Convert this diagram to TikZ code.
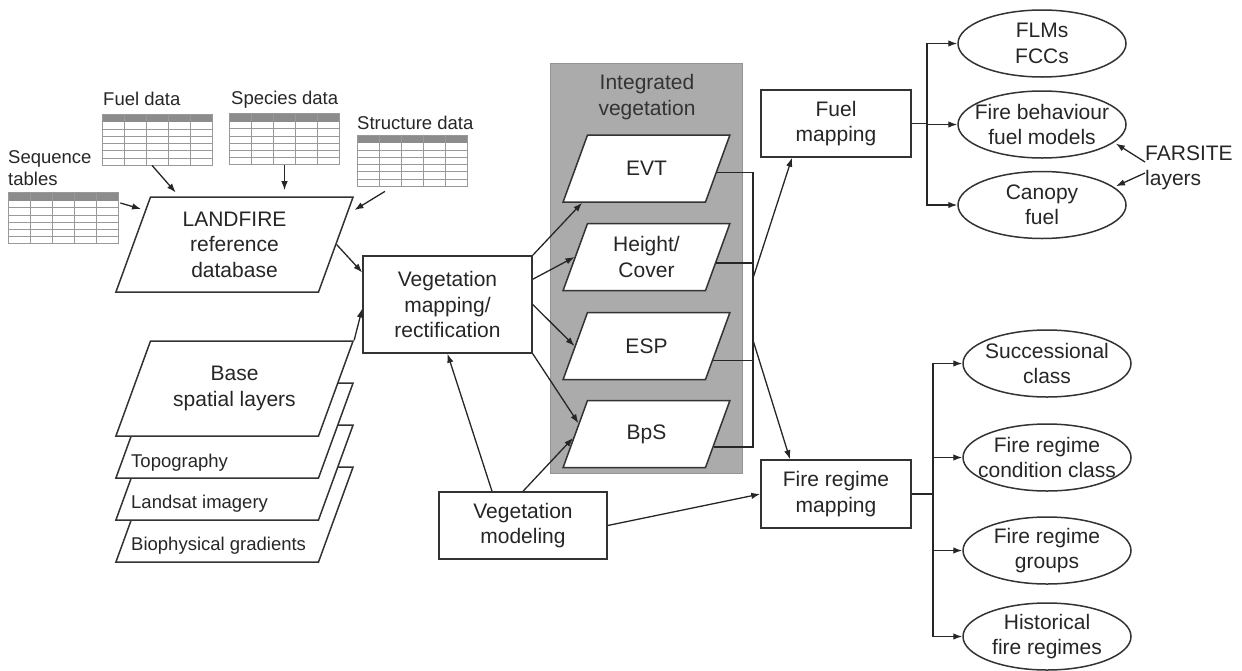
\documentclass[tikz,border=0pt]{standalone}
\usepackage{fontspec}
\setmainfont{Liberation Sans}
\usetikzlibrary{arrows.meta,positioning,shapes.geometric}

\begin{document}
\begin{tikzpicture}[x=1pt,y=-1pt,
	ptxt/.style={font=\fontsize{21}{25.5}\selectfont, text=black!85},
	txt/.style={ptxt, align=center},
	lbl/.style={font=\fontsize{18.5}{22}\selectfont, text=black!85, inner sep=0pt},
	rbox/.style={txt, draw=black!80, line width=1.5pt, fill=white, minimum width=#1, minimum height=67pt, inner sep=0pt},
	rbox/.default=168pt,
	para/.style 2 args={ptxt, trapezium, trapezium left angle=70, trapezium right angle=110, draw=black!80, line width=1.5pt, fill=white, inner sep=0pt,
		execute at begin node={\begin{minipage}[c][#2][c]{#1}\centering}, execute at end node={\end{minipage}}},
	oval/.style={txt, ellipse, draw=black!80, line width=1.5pt, minimum width=168pt, minimum height=67pt, inner xsep=-25pt, inner ysep=-20pt},
	panel/.style={fill=black!33, draw=black!42, line width=0.8pt, minimum width=192pt, minimum height=410pt, inner sep=0pt},
	tabl/.style={draw=black!40, line width=0.7pt, minimum width=110pt, minimum height=51pt, inner sep=0pt, path picture={
		\fill[black!45] (path picture bounding box.north west) rectangle ([yshift=-8pt]path picture bounding box.north east);
		\foreach \c in {1,...,4} \draw[black!40, line width=0.7pt] ([xshift=\c*22pt]path picture bounding box.north west) -- ([xshift=\c*22pt]path picture bounding box.south west);
		\foreach \r in {1,...,5} \draw[black!40, line width=0.7pt] ([yshift=-8pt-\r*7.2pt]path picture bounding box.north west) -- ([yshift=-8pt-\r*7.2pt]path picture bounding box.north east);}},
	arr/.style={-{Latex[length=9pt,width=6.5pt]}, line width=1.3pt, draw=black!85},
	conn/.style={line width=1.3pt, draw=black!85}]
		\useasboundingbox (0,0) rectangle (1242,670);

		\node[tabl] (fueltab) at (157,139.5) {};
		\node[tabl] (spectab) at (284.5,139) {};
		\node[tabl] (structab) at (412,160.5) {};
		\node[tabl] (seqtab) at (63,218) {};
		\node[lbl, anchor=base west] (fuellbl) at (103,105) {Fuel data};
		\node[lbl, anchor=base west] (speclbl) at (231,104) {Species data};
		\node[lbl, anchor=base west] (struclbl) at (357,129) {Structure data};
		\node[lbl, anchor=west, align=left] (seqlbl) at (8,168) {Sequence\\tables};

		\node[para={168pt}{95pt}] (lf) at (234.5,244.5) {LANDFIRE\\reference\\database};

		\node[para={168pt}{95pt}] (bio) at (234.5,514.5) {\mbox{}};
		\node[para={168pt}{95pt}] (lsat) at (234.5,472.5) {\mbox{}};
		\node[para={168pt}{95pt}] (topo) at (234.5,430.5) {\mbox{}};
		\node[para={168pt}{95pt}] (base) at (234.5,388.5) {Base\\spatial layers};
		\node[lbl, anchor=base west] (topotxt) at (131,467) {Topography};
		\node[lbl, anchor=base west] (lsattxt) at (131,508) {Landsat imagery};
		\node[lbl, anchor=base west] (biotxt) at (131,550) {Biophysical gradients};

		\node[rbox=169pt, minimum height=97pt] (vmap) at (447.5,304.5) {Vegetation\\mapping/\\rectification};
		\node[rbox] (vmod) at (523,525.5) {Vegetation\\modeling};

		\node[panel] (intveg) at (646,268) {};
		\node[txt, text=black!80] (ivlbl) at (647,97) {Integrated\\vegetation};
		\node[para={118pt}{67pt}] (evt) at (646.5,168.5) {EVT};
		\node[para={118pt}{67pt}] (hc) at (646.5,257) {Height/\\Cover};
		\node[para={118pt}{67pt}] (esp) at (646.5,346) {ESP};
		\node[para={118pt}{67pt}] (bps) at (646.5,434) {BpS};

		\node[rbox=150pt] (fmap) at (836,123.5) {Fuel\\mapping};
		\node[rbox=150pt, minimum height=68pt] (frm) at (836,494) {Fire regime\\mapping};

		\node[oval] (flm) at (1042,43.5) {FLMs\\FCCs};
		\node[oval] (fbm) at (1042,124.5) {Fire behaviour\\fuel models};
		\node[oval] (can) at (1042,205) {Canopy\\fuel};
		\node[txt, anchor=west, align=left, inner sep=0pt] (fars) at (1145,168) {FARSITE\\layers};

		\node[oval] (succ) at (1047,363.5) {Successional\\class};
		\node[oval] (frcc) at (1047,457.5) {Fire regime\\condition class};
		\node[oval] (frg) at (1047,550.5) {Fire regime\\groups};
		\node[oval] (hist) at (1047,636.5) {Historical\\fire regimes};

		\coordinate (vbar) at (753,0);
		\coordinate (fbar) at (927,0);
		\coordinate (rbar) at (933,0);

		\draw[arr, shorten >=5pt] ([xshift=-5pt]fueltab.south) -- (lf.139);
		\draw[arr, shorten >=6pt] (spectab.south) -- (spectab.south |- lf.north);
		\draw[arr, shorten >=8pt] ([xshift=-27pt,yshift=-5pt]structab.south) -- (lf.15);
		\draw[arr, shorten >=4pt] ([xshift=2pt,yshift=15pt]seqtab.east) -- (lf.159);

		\draw[arr] (lf.east) -- ([yshift=32pt]vmap.west);
		\draw[arr] (base.top right corner) -- ([yshift=-4pt]vmap.west);

		\draw[arr] (vmap.north east) -- (evt.208);
		\draw[arr] ([yshift=-24pt]vmap.north east) -- (hc.west);
		\draw[arr] (vmap.east) -- (esp.west);
		\draw[arr] (vmap.south east) -- (bps.171);

		\draw[arr] ([xshift=-31pt]vmod.north) -- (vmap.south);
		\draw[arr] (vmod.north) -- (bps.183);
		\draw[arr] (vmod.east) -- (frm.west);

		\draw[conn] (evt.-3) -| (bps.-11 -| vbar) -- (bps.-11);
		\draw[conn] (hc.-5) -- (hc.-5 -| vbar);
		\draw[conn] (esp.-12) -- (esp.-12 -| vbar);
		\draw[arr] ([yshift=-15pt]hc.-5 -| vbar) -- ([xshift=-44pt]fmap.south);
		\draw[arr] ([yshift=20pt]esp.-12 -| vbar) -- ([xshift=-46pt]frm.north);

		\draw[conn] (fmap.east) -- (fmap.east -| fbar);
		\foreach \e in {flm,fbm,can}
			\draw[arr] (fmap.east -| fbar) |- (\e.west);
		\draw[arr, shorten >=2pt] ([yshift=6pt]fars.west) -- (fbm.-14);
		\draw[arr, shorten >=2pt] ([yshift=-5pt]fars.west) -- (can.14);

		\draw[conn] (frm.east) -- (frm.east -| rbar);
		\foreach \e in {succ,frcc,frg,hist}
			\draw[arr] (frm.east -| rbar) |- (\e.west);
	\end{tikzpicture}
\end{document}
